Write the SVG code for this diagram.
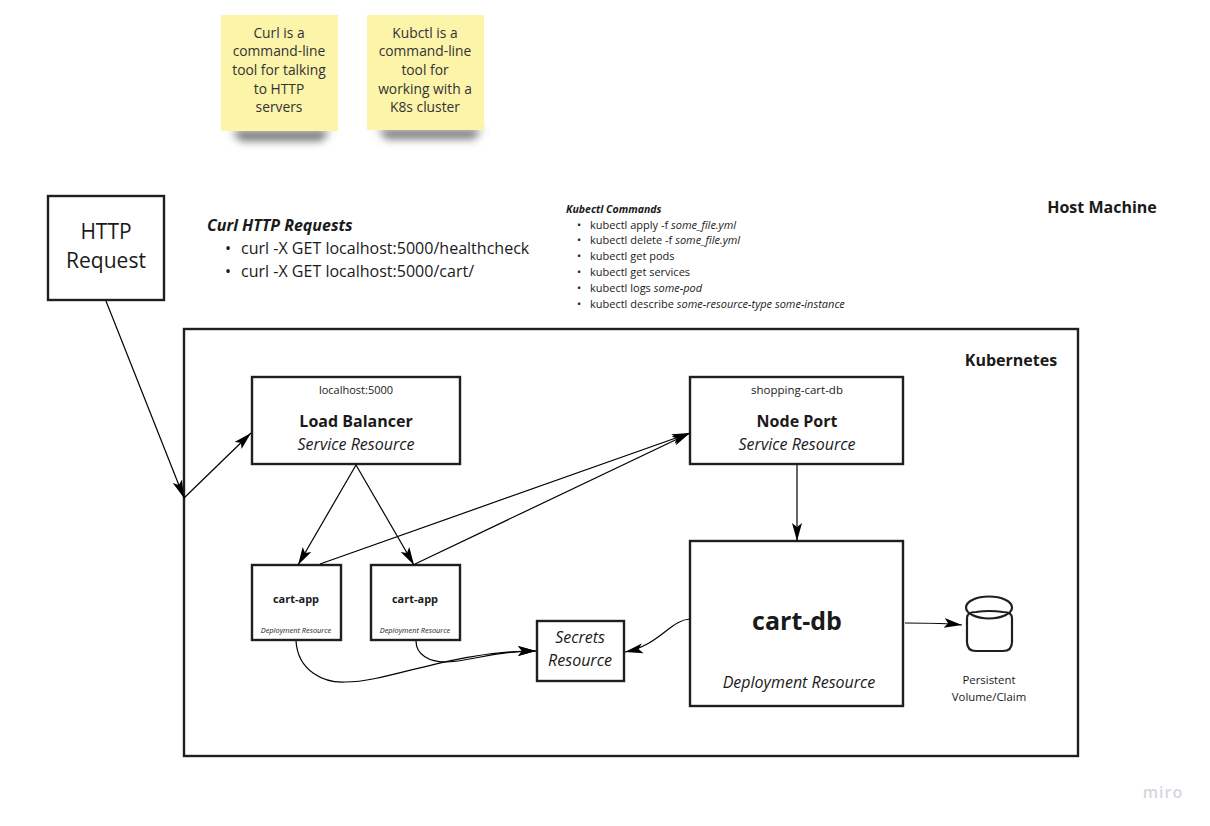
<svg xmlns="http://www.w3.org/2000/svg" width="1210" height="826" viewBox="0 0 1210 826">
<style>
text{font-family:"Open Sans","Noto Sans",sans-serif;fill:#1a1a1a;text-anchor:middle}
.box{fill:#fff;stroke:#1f1f1f;stroke-width:2.4}
.sticky{fill:#fbf4a9}
.st{font-size:13.8px;fill:#333}
.l{text-anchor:start}
.c{fill:none;stroke:#000;stroke-width:1.2;marker-end:url(#a)}
.b{font-weight:700}.i{font-style:italic}
</style>
<defs>
<marker id="a" markerUnits="userSpaceOnUse" markerWidth="19" markerHeight="12" refX="18" refY="6" orient="auto"><path d="M0 1L18 6L0 11L4 6Z" fill="#000"/></marker>
<filter id="blur" x="-20%" y="-100%" width="140%" height="300%"><feGaussianBlur stdDeviation="4"/></filter>
</defs>
<rect width="1210" height="826" fill="#fff"/>
<g id="sticky-curl">
<path d="M232 130H330L322 141H240Z" fill="#777" filter="url(#blur)"/>
<rect class="sticky" x="221" y="15" width="117" height="116"/>
<text class="st" x="279" y="38">Curl is a</text><text class="st" x="279" y="56">command-line</text><text class="st" x="279" y="75">tool for talking</text><text class="st" x="279" y="94">to HTTP</text><text class="st" x="279" y="112">servers</text>
</g>
<g id="sticky-kubectl">
<path d="M378 129H482L474 139H386Z" fill="#777" filter="url(#blur)"/>
<rect class="sticky" x="367" y="15" width="117" height="115"/>
<text class="st" x="425" y="38">Kubctl is a</text><text class="st" x="425" y="56">command-line</text><text class="st" x="425" y="75">tool for</text><text class="st" x="425" y="94">working with a</text><text class="st" x="425" y="112">K8s cluster</text>
</g>
<text class="b" x="1102" y="213" font-size="16">Host Machine</text>
<g id="curl-requests">
<text class="l b i" x="207" y="231" font-size="16">Curl HTTP Requests</text>
<text class="l" x="225" y="254" font-size="16">•</text><text class="l" x="241" y="254" font-size="16.050">curl -X GET localhost:5000/healthcheck</text>
<text class="l" x="225" y="277" font-size="16">•</text><text class="l" x="241" y="277" font-size="16.050">curl -X GET localhost:5000/cart/</text>
</g>
<g id="kubectl-commands" font-size="11">
<text class="l b i" x="566" y="213" font-size="10.500">Kubectl Commands</text>
<text class="l" x="577" y="229">•</text><text class="l" x="590" y="229">kubectl apply -f <tspan class="i">some_file.yml</tspan></text>
<text class="l" x="577" y="244">•</text><text class="l" x="590" y="244">kubectl delete -f <tspan class="i">some_file.yml</tspan></text>
<text class="l" x="577" y="260">•</text><text class="l" x="590" y="260">kubectl get pods</text>
<text class="l" x="577" y="276">•</text><text class="l" x="590" y="276">kubectl get services</text>
<text class="l" x="577" y="292">•</text><text class="l" x="590" y="292">kubectl logs <tspan class="i">some-pod</tspan></text>
<text class="l" x="577" y="308">•</text><text class="l" x="590" y="308">kubectl describe <tspan class="i">some-resource-type some-instance</tspan></text>
</g>
<g id="http-request">
<rect class="box" x="48" y="196" width="116" height="104"/>
<text x="106" y="239" font-size="21">HTTP</text><text x="106" y="268" font-size="21">Request</text>
</g>
<g id="kubernetes">
<rect class="box" x="184" y="329" width="894" height="427"/>
<text class="b" x="1011" y="366" font-size="16">Kubernetes</text>
</g>
<g id="load-balancer">
<rect class="box" x="252" y="377" width="208" height="87"/>
<text x="356" y="394" font-size="11">localhost:5000</text>
<text class="b" x="356" y="427" font-size="16">Load Balancer</text>
<text class="i" x="356" y="450" font-size="16">Service Resource</text>
</g>
<g id="node-port">
<rect class="box" x="690" y="377" width="213" height="87"/>
<text x="797" y="394" font-size="11.500">shopping-cart-db</text>
<text class="b" x="797" y="427" font-size="16">Node Port</text>
<text class="i" x="797" y="450" font-size="16">Service Resource</text>
</g>
<g id="cart-app-1">
<rect class="box" x="252" y="565" width="89" height="75"/>
<text class="b" x="296" y="603" font-size="11">cart-app</text>
<text class="i" x="296" y="633" font-size="7.400">Deployment Resource</text>
</g>
<g id="cart-app-2">
<rect class="box" x="371" y="565" width="89" height="75"/>
<text class="b" x="415" y="603" font-size="11">cart-app</text>
<text class="i" x="415" y="633" font-size="7.400">Deployment Resource</text>
</g>
<g id="secrets">
<rect class="box" x="537" y="621" width="87" height="60"/>
<text class="i" x="580" y="643" font-size="16">Secrets</text>
<text class="i" x="580" y="666" font-size="16">Resource</text>
</g>
<g id="cart-db">
<rect class="box" x="690" y="541" width="213" height="165"/>
<text class="b" x="797" y="630" font-size="25">cart-db</text>
<text class="i" x="799" y="688" font-size="16">Deployment Resource</text>
</g>
<g id="persistent-volume">
<path d="M967 618V642Q967 651 976 651H1003Q1012 651 1012 642V618Q1012 612 1003 612Q989 610 976 612Q967 612 967 618Z" fill="#fff" stroke="#1f1f1f" stroke-width="2.200"/>
<ellipse cx="989" cy="607.500" rx="23" ry="11" fill="none" stroke="#1f1f1f" stroke-width="2.200"/>
<text x="989" y="684" font-size="11.400">Persistent</text>
<text x="989" y="701" font-size="11.400">Volume/Claim</text>
</g>
<g id="connectors">
<path class="c" d="M106 301L184 498"/>
<path class="c" d="M184 498L251 433"/>
<path class="c" d="M356 465L298 565"/>
<path class="c" d="M356 465L414 565"/>
<path class="c" d="M320 564L690 433"/>
<path class="c" d="M415 564L690 433"/>
<path class="c" d="M797 465V541"/>
<path class="c" d="M296 641C298 672 325 683 345 682C390 682 450 651 536 651"/>
<path class="c" d="M416 641C416 655 430 662 445 662C470 662 490 651 536 651"/>
<path class="c" d="M690 619C670 620 660 645 625 652"/>
<path class="c" d="M905 623C925 623 945 623 962 625"/>
</g>
<text x="1163" y="798" font-size="16" style="fill:#d6d6e0;font-weight:600;letter-spacing:1px">miro</text>
</svg>
